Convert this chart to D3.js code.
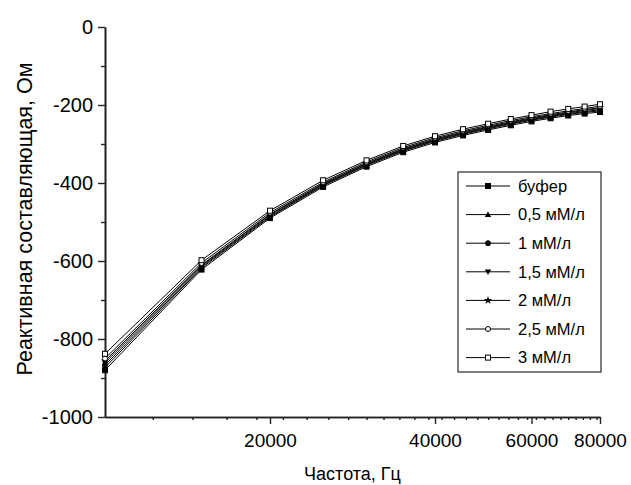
<!DOCTYPE html>
<html>
<head>
<meta charset="utf-8">
<script src="https://cdn.jsdelivr.net/npm/d3@7"></script>
<style>
  body { margin: 0; background: #fff; }
  svg text { font-family: Arial, "Liberation Sans", sans-serif; fill: #000; }
  .axis path, .axis line { stroke: #222; }
</style>
</head>
<body>
<svg id="chart" width="631" height="485"></svg>
<script>
// frequencies, Hz
const freqs = [10000, 15000, 20000, 25000, 30000, 35000, 40000, 45000, 50000, 55000, 60000, 65000, 70000, 75000, 80000];

// reactance, Ohm, one array per solution
const bufer  = [-880, -622, -490, -410, -358, -321, -296, -278, -264, -252, -242, -234, -227, -222, -218];
const c05    = [-873, -618, -487, -407, -355, -318, -293, -275, -261, -249, -239, -231, -224, -219, -215];
const c1     = [-867, -615, -485, -405, -353, -316, -291, -273, -259, -247, -237, -229, -222, -217, -212];
const c15    = [-861, -612, -482, -403, -351, -314, -289, -271, -257, -245, -235, -227, -220, -214, -209];
const c2     = [-856, -610, -480, -401, -349, -312, -287, -269, -255, -243, -233, -225, -218, -212, -207];
const c25    = [-850, -605, -476, -398, -346, -309, -284, -266, -252, -240, -230, -222, -215, -209, -203];
const c3     = [-838, -598, -471, -393, -342, -305, -280, -262, -248, -236, -226, -217, -210, -204, -198];

const names = ["буфер", "0,5 мМ/л", "1 мМ/л", "1,5 мМ/л", "2 мМ/л", "2,5 мМ/л", "3 мМ/л"];
const symbols = ["squareFill", "triangleFill", "circleFill", "triDownFill", "star", "circleOpen", "squareOpen"];
const xTicks = [20000, 40000, 60000, 80000];
const yTicks = [0, -200, -400, -600, -800, -1000];

const series = [bufer, c05, c1, c15, c2, c25, c3].map((vals, i) => ({
    name: names[i],
    sym: symbols[i],
    values: vals.map((v, j) => ({f: freqs[j], v: v}))
}));

const svg = d3.select("#chart");
const margins = {left: 105, top: 27, right: 31, bottom: 68};
const width = +svg.attr("width");
const height = +svg.attr("height");

const xScale = d3.scaleLog()
                 .domain([10000, 80000])
                 .range([margins.left, width - margins.right]);
const yScale = d3.scaleLinear()
                 .domain([-1000, 0])
                 .range([height - margins.bottom, margins.top]);

// plain hyphen, like the original
const fmt = d => String(d);

// axes
const xMinor = d3.range(1, 36).map(k => 10000 + k * 20000 / 9)
                 .filter(v => v < 80000 && xTicks.indexOf(Math.round(v)) < 0);
const yMinor = d3.range(-900, 0, 200);

svg.append("g").attr("class", "axis")
   .attr("transform", `translate(0, ${yScale(-1000)})`)
   .call(d3.axisBottom(xScale).tickValues(xMinor).tickSize(3).tickFormat("").tickSizeOuter(0));
svg.append("g").attr("class", "axis")
   .attr("transform", `translate(${xScale(10000)}, 0)`)
   .call(d3.axisLeft(yScale).tickValues(yMinor).tickSize(4).tickFormat("").tickSizeOuter(0));

const xAxisG = svg.append("g").attr("class", "axis")
   .attr("transform", `translate(0, ${yScale(-1000)})`)
   .call(d3.axisBottom(xScale).tickValues(xTicks).tickSize(7).tickSizeOuter(0).tickFormat(fmt));
const yAxisG = svg.append("g").attr("class", "axis")
   .attr("transform", `translate(${xScale(10000)}, 0)`)
   .call(d3.axisLeft(yScale).tickValues(yTicks).tickSize(7).tickSizeOuter(0).tickFormat(fmt));

svg.selectAll(".axis path").attr("stroke-width", 1.6);
svg.selectAll(".axis line").attr("stroke-width", 1.4);
xAxisG.selectAll("text").attr("font-size", 19).attr("dy", "1.05em");
yAxisG.selectAll("text").attr("font-size", 20).attr("dx", "-0.1em");
svg.selectAll(".axis text").style("font-family", "Arial, 'Liberation Sans', sans-serif").attr("fill", "#000");

// axis titles
svg.append("text")
   .attr("x", (xScale(10000) + xScale(80000)) / 2)
   .attr("y", 480)
   .attr("text-anchor", "middle")
   .attr("font-size", 18)
   .text("Частота, Гц");
svg.append("text")
   .attr("transform", `translate(32, 219) rotate(-90)`)
   .attr("text-anchor", "middle")
   .attr("font-size", 21.5)
   .text("Реактивная составляющая, Ом");

// markers
function drawMarker(g, sym, x, y) {
    const s = 2.5;
    if (sym === "squareFill" || sym === "squareOpen") {
        g.append("rect").attr("x", x - s).attr("y", y - s).attr("width", 2 * s).attr("height", 2 * s)
         .attr("fill", sym === "squareFill" ? "#000" : "#fff").attr("stroke", "#000").attr("stroke-width", 1);
    } else if (sym === "circleFill" || sym === "circleOpen") {
        g.append("circle").attr("cx", x).attr("cy", y).attr("r", s)
         .attr("fill", sym === "circleFill" ? "#000" : "#fff").attr("stroke", "#000").attr("stroke-width", 1);
    } else if (sym === "triangleFill") {
        g.append("path").attr("d", `M${x},${y - 3.2}L${x + 3.2},${y + 2.4}L${x - 3.2},${y + 2.4}Z`).attr("fill", "#000");
    } else if (sym === "triDownFill") {
        g.append("path").attr("d", `M${x},${y + 3.2}L${x + 3.2},${y - 2.4}L${x - 3.2},${y - 2.4}Z`).attr("fill", "#000");
    } else if (sym === "star") {
        g.append("path").attr("d", d3.symbol(d3.symbolStar, 22)())
         .attr("transform", `translate(${x},${y})`).attr("fill", "#000");
    }
}

const line = d3.line().x(d => xScale(d.f)).y(d => yScale(d.v));
const plot = svg.append("g");
series.forEach(s => {
    plot.append("path").datum(s.values)
        .attr("d", line).attr("fill", "none").attr("stroke", "#000").attr("stroke-width", 1);
});
series.forEach(s => {
    const g = plot.append("g");
    s.values.forEach(d => drawMarker(g, s.sym, xScale(d.f), yScale(d.v)));
});

// legend
const legend = svg.append("g").attr("transform", "translate(458, 172)");
legend.append("rect").attr("width", 143).attr("height", 200)
      .attr("fill", "#fff").attr("stroke", "#000").attr("stroke-width", 1);
series.forEach((s, i) => {
    const y = 14 + i * 28.6;
    legend.append("line").attr("x1", 8).attr("x2", 52).attr("y1", y).attr("y2", y)
          .attr("stroke", "#000").attr("stroke-width", 1);
    drawMarker(legend, s.sym, 30, y);
    legend.append("text").attr("x", 60).attr("y", y).attr("dy", "0.35em")
          .attr("font-size", 16.5).text(s.name);
});
</script>
</body>
</html>
